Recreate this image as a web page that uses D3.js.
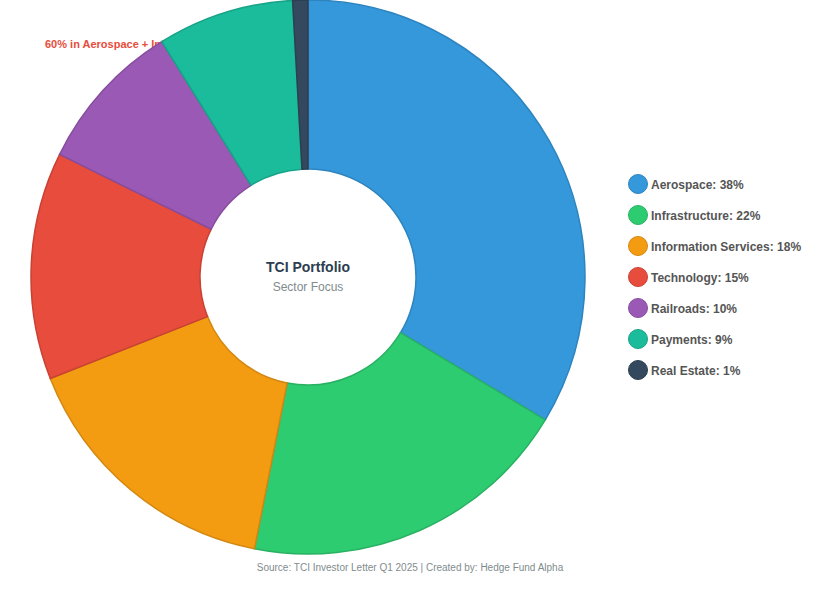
<!DOCTYPE html>
<html>
<head>
<meta charset="utf-8">
<script src="https://cdn.jsdelivr.net/npm/d3@7"></script>
<style>
body { margin: 0; background: #fff; font-family: Arial, "Liberation Sans", sans-serif; }
</style>
</head>
<body>
<svg id="chart" width="820" height="592"></svg>
<script>
// sector weights (they add up to 113, drawn as-is)
var sectors = ["Aerospace", "Infrastructure", "Information Services", "Technology", "Railroads", "Payments", "Real Estate"];
var weights = [38, 22, 18, 15, 10, 9, 1];
var colors = ["#3498db", "#2ecc71", "#f39c12", "#e74c3c", "#9b59b6", "#1abc9c", "#34495e"];

var svg = d3.select("#chart");
var cx = 308, cy = 277, outerR = 277, innerR = 108;

// annotation sits under the pie
svg.append("text").attr("x", 45).attr("y", 48)
    .attr("fill", "#e74c3c").attr("font-size", 11).attr("font-weight", "bold")
    .text("60% in Aerospace + Infrastructure");

var pie = d3.pie().sort(null).value(d => d.w);
var arc = d3.arc().innerRadius(innerR).outerRadius(outerR);
var data = sectors.map((s, i) => ({name: s, w: weights[i], c: colors[i]}));

var g = svg.append("g").attr("transform", `translate(${cx},${cy})`);
g.selectAll("path").data(pie(data)).enter().append("path")
    .attr("d", arc)
    .attr("fill", d => d.data.c)
    .attr("stroke", d => d3.color(d.data.c).darker(0.4))
    .attr("stroke-width", 1.5);

g.append("text").attr("y", -5).attr("text-anchor", "middle")
    .attr("font-size", 14).attr("font-weight", "bold").attr("fill", "#2c3e50")
    .text("TCI Portfolio");
g.append("text").attr("y", 14).attr("text-anchor", "middle")
    .attr("font-size", 12).attr("fill", "#7f8c8d")
    .text("Sector Focus");

// legend
var legend = svg.append("g").attr("transform", "translate(638,184)");
var rows = legend.selectAll("g").data(data).enter().append("g")
    .attr("transform", (d, i) => `translate(0,${i * 31})`);
rows.append("circle").attr("r", 9.5).attr("fill", d => d.c)
    .attr("stroke", d => d3.color(d.c).darker(0.4)).attr("stroke-width", 1);
rows.append("text").attr("x", 13).attr("y", 4.5)
    .attr("font-size", 12).attr("font-weight", "bold").attr("fill", "#555")
    .text(d => `${d.name}: ${d.w}%`);

svg.append("text").attr("x", 410).attr("y", 571).attr("text-anchor", "middle")
    .attr("font-size", 10).attr("fill", "#7f8c8d")
    .text("Source: TCI Investor Letter Q1 2025 | Created by: Hedge Fund Alpha");
</script>
</body>
</html>
